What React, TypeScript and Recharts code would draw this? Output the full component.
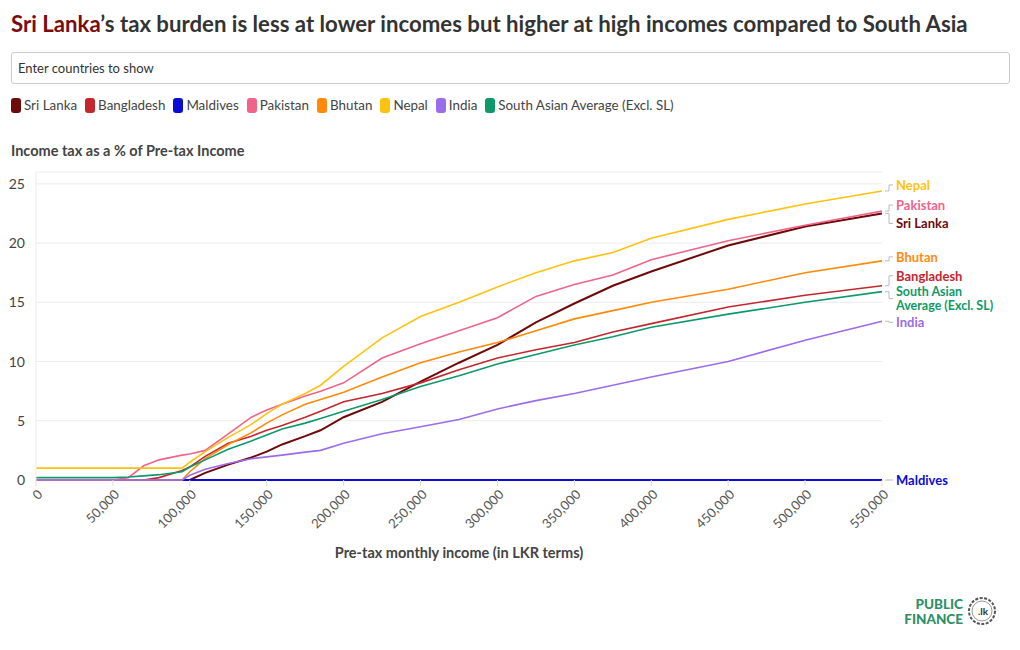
import { CartesianGrid, Line, LineChart, XAxis, YAxis } from "recharts";

const income = [
  0, 50000, 60000, 70000, 80000, 95000, 100000, 110000, 125000, 140000, 150000, 160000, 175000,
  185000, 200000, 225000, 250000, 275000, 300000, 325000, 350000, 375000, 400000, 450000, 500000,
  550000,
];

const sriLanka = [
  0, 0, 0, 0, 0, 0, 0, 0.6, 1.3, 1.9, 2.4, 3.0, 3.7, 4.2, 5.3, 6.6, 8.3, 9.9, 11.4, 13.3, 14.9,
  16.4, 17.6, 19.8, 21.4, 22.5,
];
const bangladesh = [
  0, 0, 0, 0, 0.2, 0.8, 1.1, 2.0, 3.1, 3.7, 4.2, 4.6, 5.3, 5.8, 6.6, 7.3, 8.2, 9.3, 10.3, 11.0,
  11.6, 12.5, 13.2, 14.6, 15.6, 16.4,
];
const maldives = income.map(() => 0);
const pakistan = [
  0, 0, 0.2, 1.2, 1.7, 2.1, 2.2, 2.5, 3.9, 5.3, 5.9, 6.4, 7.1, 7.5, 8.2, 10.3, 11.5, 12.6, 13.7,
  15.5, 16.5, 17.3, 18.6, 20.2, 21.5, 22.7,
];
const bhutan = [
  0, 0, 0, 0, 0, 0, 0.7, 1.8, 3.0, 4.0, 4.8, 5.5, 6.4, 6.8, 7.4, 8.7, 9.9, 10.8, 11.6, 12.6, 13.6,
  14.3, 15.0, 16.1, 17.5, 18.5,
];
const nepal = [
  1, 1, 1, 1, 1, 1, 1.5, 2.4, 3.6, 4.7, 5.6, 6.4, 7.3, 8.0, 9.6, 12.0, 13.8, 15.0, 16.3, 17.5,
  18.5, 19.2, 20.4, 22.0, 23.3, 24.4,
];
const india = [
  0, 0, 0, 0, 0, 0, 0.4, 0.9, 1.4, 1.8, 1.95, 2.1, 2.35, 2.5, 3.1, 3.9, 4.5, 5.1, 6.0, 6.7, 7.3,
  8.0, 8.7, 10.0, 11.8, 13.4,
];
const southAsiaAvg = [
  0.2, 0.2, 0.25, 0.35, 0.45, 0.7, 1.1, 1.7, 2.6, 3.3, 3.8, 4.3, 4.8, 5.2, 5.8, 6.8, 7.9, 8.8, 9.8,
  10.6, 11.4, 12.1, 12.9, 14.0, 15.0, 15.9,
];

const xTicks = [0, 50000, 100000, 150000, 200000, 250000, 300000, 350000, 400000, 450000, 500000, 550000];
const yTicks = [0, 5, 10, 15, 20, 25];

const FONT = "Lato, 'Noto Sans', sans-serif";

type Series = {
  key: string;
  name: string;
  label: string[];
  color: string;
  values: number[];
  width: number;
  labelDy: number;
};

const SERIES: Series[] = [
  { key: "sriLanka", name: "Sri Lanka", label: ["Sri Lanka"], color: "#6e0a0a", values: sriLanka, width: 2, labelDy: 10 },
  { key: "bangladesh", name: "Bangladesh", label: ["Bangladesh"], color: "#c4262e", values: bangladesh, width: 1.6, labelDy: -10 },
  { key: "maldives", name: "Maldives", label: ["Maldives"], color: "#0b0bd6", values: maldives, width: 1.8, labelDy: 0 },
  { key: "pakistan", name: "Pakistan", label: ["Pakistan"], color: "#f0648a", values: pakistan, width: 1.6, labelDy: -6 },
  { key: "bhutan", name: "Bhutan", label: ["Bhutan"], color: "#ff8a0a", values: bhutan, width: 1.6, labelDy: -4 },
  { key: "nepal", name: "Nepal", label: ["Nepal"], color: "#ffc20e", values: nepal, width: 1.6, labelDy: -6 },
  { key: "india", name: "India", label: ["India"], color: "#9b6cec", values: india, width: 1.6, labelDy: 1 },
  {
    key: "southAsiaAvg",
    name: "South Asian Average (Excl. SL)",
    label: ["South Asian", "Average (Excl. SL)"],
    color: "#0e9a68",
    values: southAsiaAvg,
    width: 1.6,
    labelDy: 7,
  },
];

const data = income.map((x, i) => {
  const row: Record<string, number> = { income: x };
  SERIES.forEach((s) => {
    row[s.key] = s.values[i];
  });
  return row;
});

function XTick({ x, y, payload }: any) {
  return (
    <g transform={`translate(${x + 4},${y + 4})`}>
      <text
        transform="rotate(-45)"
        textAnchor="end"
        dy="0.35em"
        fill="#555"
        fontSize={13}
        fontFamily={FONT}
      >
        {Number(payload.value).toLocaleString("en-US")}
      </text>
    </g>
  );
}

function endLabel(s: Series) {
  return (props: any) => {
    const { x, y, index } = props;
    if (index !== income.length - 1) return null;
    const ly = y + s.labelDy;
    const lineH = 14.5;
    const top = ly - ((s.label.length - 1) * lineH) / 2;
    return (
      <g key={`lbl-${s.key}`}>
        <path d={`M${x + 3},${y} h4 V${ly} h4`} stroke="#bbb" fill="none" strokeWidth={1} />
        {s.label.map((t, i) => (
          <text
            key={t}
            x={x + 14}
            y={top + i * lineH}
            fill={s.color}
            fontWeight={700}
            fontSize={s.label.length > 1 ? 12.5 : 13}
            fontFamily={FONT}
            dominantBaseline="central"
          >
            {t}
          </text>
        ))}
      </g>
    );
  };
}

function Logo() {
  return (
    <svg width={124} height={42} style={{ position: "absolute", left: 890, top: 592 }}>
      <text x={73} y={17} textAnchor="end" fill="#2e8f68" fontWeight={900} fontSize={13.5} fontFamily={FONT}>
        PUBLIC
      </text>
      <text x={73} y={32} textAnchor="end" fill="#2e8f68" fontWeight={900} fontSize={13.5} fontFamily={FONT}>
        FINANCE
      </text>
      <circle cx={92} cy={19} r={13} fill="#fff" stroke="#555" strokeWidth={2} strokeDasharray="3 1.5" />
      <circle cx={92} cy={19} r={10} fill="none" stroke="#999" strokeWidth={1} />
      <text x={93} y={23} textAnchor="middle" fill="#333" fontWeight={700} fontSize={10} fontFamily={FONT}>
        .lk
      </text>
    </svg>
  );
}

export default function App() {
  return (
    <div
      style={{
        position: "absolute",
        left: 0,
        top: 0,
        width: 1020,
        height: 650,
        background: "#fff",
        fontFamily: FONT,
        color: "#333",
        overflow: "hidden",
      }}
    >
      <div style={{ position: "absolute", left: 11, top: 10, fontSize: 22.2, fontWeight: 700, color: "#333", whiteSpace: "nowrap" }}>
        <span style={{ color: "#7a0c0c" }}>Sri Lanka</span>’s tax burden is less at lower incomes but higher at high
        incomes compared to South Asia
      </div>
      <div
        style={{
          position: "absolute",
          left: 11,
          top: 52,
          width: 991,
          height: 30,
          border: "1px solid #ccc",
          borderRadius: 3,
          fontSize: 13,
          color: "#333",
          lineHeight: "30px",
          paddingLeft: 6,
          boxSizing: "content-box",
        }}
      >
        Enter countries to show
      </div>
      <div style={{ position: "absolute", left: 11, top: 97, display: "flex", gap: 8, fontSize: 13.4, color: "#444" }}>
        {SERIES.map((s) => (
          <div key={s.key} style={{ display: "flex", alignItems: "center", gap: 3 }}>
            <span style={{ display: "inline-block", width: 10, height: 15, borderRadius: 3, background: s.color }} />
            <span>{s.name}</span>
          </div>
        ))}
      </div>
      <div style={{ position: "absolute", left: 11, top: 142, fontSize: 14.5, fontWeight: 700, color: "#444" }}>
        Income tax as a % of Pre-tax Income
      </div>
      <div style={{ position: "absolute", left: 0, top: 0 }}>
        <LineChart
          width={1020}
          height={600}
          data={data}
          margin={{ top: 172, right: 138, bottom: 50, left: 6 }}
        >
          <CartesianGrid horizontal vertical={false} stroke="#ebebeb" />
          <XAxis
            dataKey="income"
            type="number"
            domain={[0, 550000]}
            ticks={xTicks}
            interval={0}
            axisLine={false}
            tickLine={{ stroke: "#ddd" }}
            tickSize={6}
            tickMargin={2}
            height={70}
            tick={<XTick />}
          />
          <YAxis
            type="number"
            domain={[0, 26]}
            ticks={yTicks}
            interval={0}
            width={30}
            axisLine={{ stroke: "#ebebeb" }}
            tickLine={false}
            tickSize={0}
            tickMargin={11}
            tick={{ fontSize: 14, fill: "#444", fontFamily: FONT }}
          />
          {SERIES.map((s) => (
            <Line
              key={s.key}
              dataKey={s.key}
              stroke={s.color}
              strokeWidth={s.width}
              dot={false}
              activeDot={false}
              isAnimationActive={false}
              label={endLabel(s)}
            />
          ))}
        </LineChart>
      </div>
      <div
        style={{
          position: "absolute",
          left: 36,
          width: 846,
          top: 544,
          textAlign: "center",
          fontSize: 14.5,
          fontWeight: 700,
          color: "#444",
        }}
      >
        Pre-tax monthly income (in LKR terms)
      </div>
      <Logo />
    </div>
  );
}
